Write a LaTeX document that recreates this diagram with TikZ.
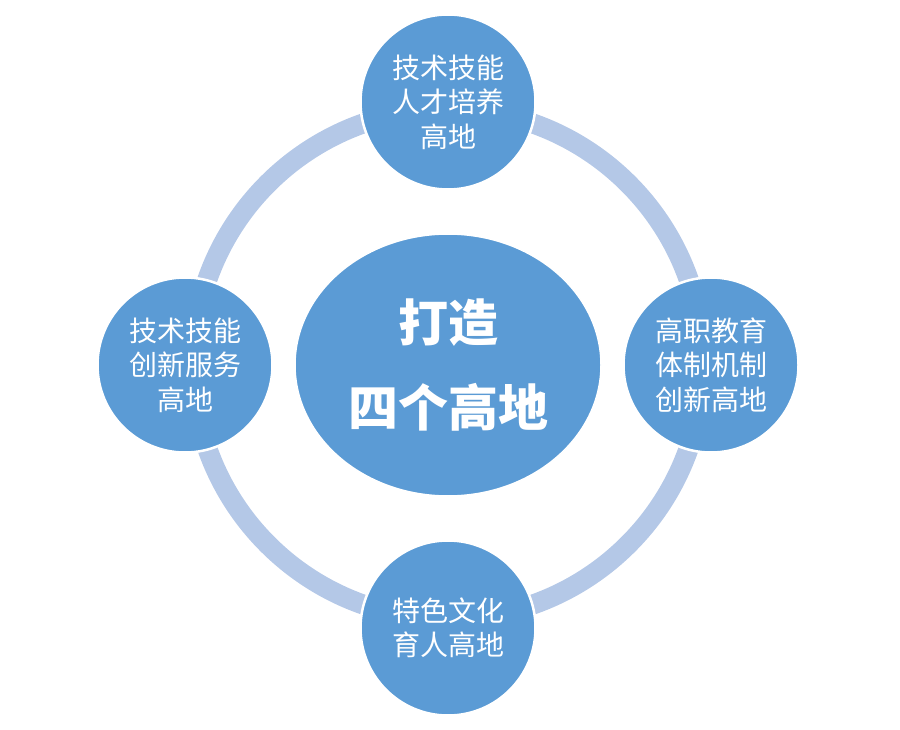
\documentclass[tikz,border=0pt]{standalone}
\usepackage{fontspec}
\newfontfamily\cjk{Noto Sans CJK SC}
\usepackage{tikz}
\usetikzlibrary{positioning}
\usetikzlibrary{shapes.geometric}

\definecolor{nodeblue}{RGB}{91,155,213}
\definecolor{ringblue}{RGB}{180,200,231}

\begin{document}
\begin{tikzpicture}
		[x=1pt, y=-1pt, on grid, node distance=263pt,
		hub/.style={ellipse, fill=nodeblue, draw=white, line width=1.5pt, minimum width=306pt, minimum height=262pt, inner sep=0pt, align=center, text=white, font=\cjk\bfseries\fontsize{50}{85}\selectfont},
		spoke/.style={circle, fill=nodeblue, draw=white, line width=2.5pt, minimum size=175pt, inner sep=0pt, align=center, text=white, font=\cjk\fontsize{28}{34.5}\selectfont},
		ring/.style={draw=ringblue, line width=20pt}]
		\useasboundingbox (0,0) rectangle (900,730);
		\coordinate (o) at (448,364);
		\draw[ring] (o) circle[radius=255pt];

		\node[hub] (c) at (448,365) {打造\\四个高地};
		\node[spoke, above=of c] (t) {技术技能\\人才培养\\高地};
		\node[spoke, right=of c] (r) {高职教育\\体制机制\\创新高地};
		\node[spoke, below=of c] (b) {特色文化\\育人高地};
		\node[spoke, left=of c] (l) {技术技能\\创新服务\\高地};
	\end{tikzpicture}
\end{document}
